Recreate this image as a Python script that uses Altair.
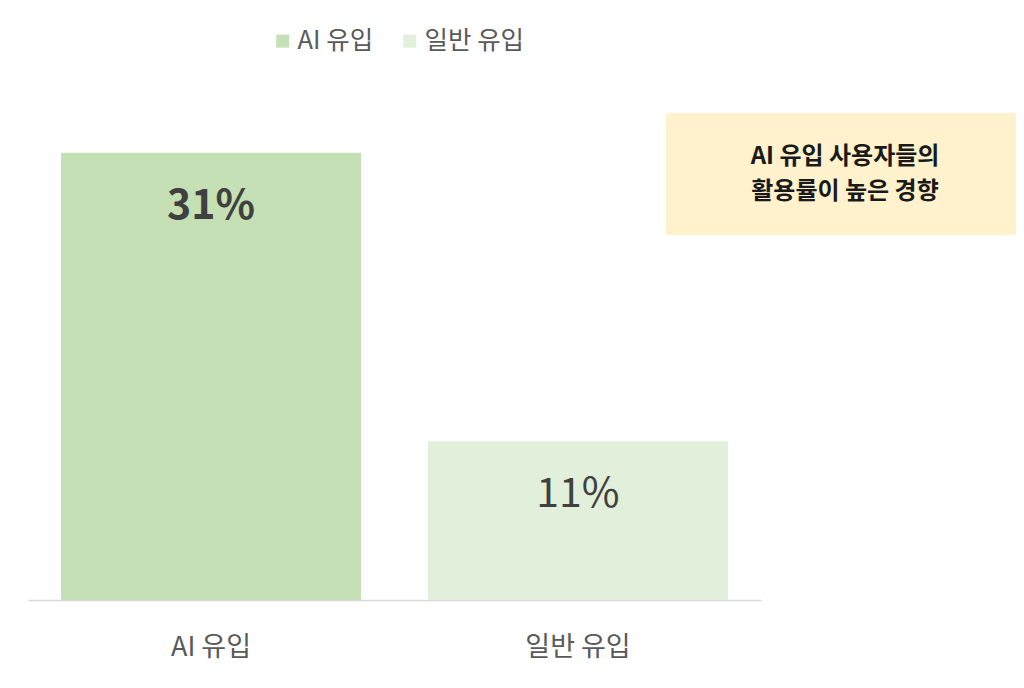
import altair as alt
import pandas as pd

categories = ["AI 유입", "일반 유입"]
values = [31, 11]
labels = ["31%", "11%"]
bar_colors = ["#C5E0B4", "#E2EFDA"]
note_lines = ["AI 유입 사용자들의", "활용률이 높은 경향"]

FONT = "Noto Sans CJK KR"

df = pd.DataFrame({"category": categories, "value": values, "label": labels})

x_enc = alt.X(
    "category:N",
    sort=categories,
    scale=alt.Scale(paddingInner=0.1826, paddingOuter=0.09),
    axis=alt.Axis(
        title=None, labelAngle=0, ticks=False, labelPadding=34,
        labelFontSize=27, labelColor="#595959", labelFont=FONT,
        domainColor="#D9D9D9", domainWidth=1.5, grid=False,
    ),
)
y_scale = alt.Scale(domain=[0, 40], nice=False, zero=True)

base = alt.Chart(df)

bars = base.mark_bar().encode(
    x=x_enc,
    y=alt.Y("value:Q", scale=y_scale, axis=None),
    color=alt.Color(
        "category:N",
        sort=categories,
        scale=alt.Scale(domain=categories, range=bar_colors),
        legend=alt.Legend(
            title=None, orient="none", direction="horizontal",
            legendX=242, legendY=5,
            symbolType="square", symbolSize=169, symbolStrokeWidth=0,
            labelFontSize=25.5, labelColor="#595959", labelFont=FONT,
            labelOffset=2, columnPadding=23,
        ),
    ),
)

txt_bold = base.transform_filter(alt.datum.category == categories[0]).mark_text(
    font=FONT, fontSize=41, fontWeight="bold", color="#404040",
    baseline="middle", dy=54,
).encode(x=alt.X("category:N", sort=categories), y=alt.Y("value:Q", scale=y_scale), text="label:N")

txt_norm = base.transform_filter(alt.datum.category == categories[1]).mark_text(
    font=FONT, fontSize=41, fontWeight="normal", color="#404040",
    baseline="middle", dy=54,
).encode(x=alt.X("category:N", sort=categories), y=alt.Y("value:Q", scale=y_scale), text="label:N")

note_df = pd.DataFrame({"dummy": [0]})
note_box = alt.Chart(note_df).mark_rect(color="#FFF2CC").encode(
    x=alt.value(638), x2=alt.value(988), y=alt.value(90), y2=alt.value(212)
)
note_text = alt.Chart(note_df).mark_text(
    text=note_lines, font=FONT, fontSize=24, fontWeight="bold", color="#1A1A1A",
    align="center", baseline="middle", lineHeight=35,
).encode(x=alt.value(817), y=alt.value(134))

chart = alt.layer(bars, txt_bold, txt_norm, note_box, note_text).properties(
    width=733, height=577, padding={"left": 20, "top": 15, "right": 0, "bottom": 5}
).configure(font=FONT).configure_view(strokeWidth=0, stroke=None)

chart.save("out.html", embed_options={"renderer": "svg", "actions": False})
